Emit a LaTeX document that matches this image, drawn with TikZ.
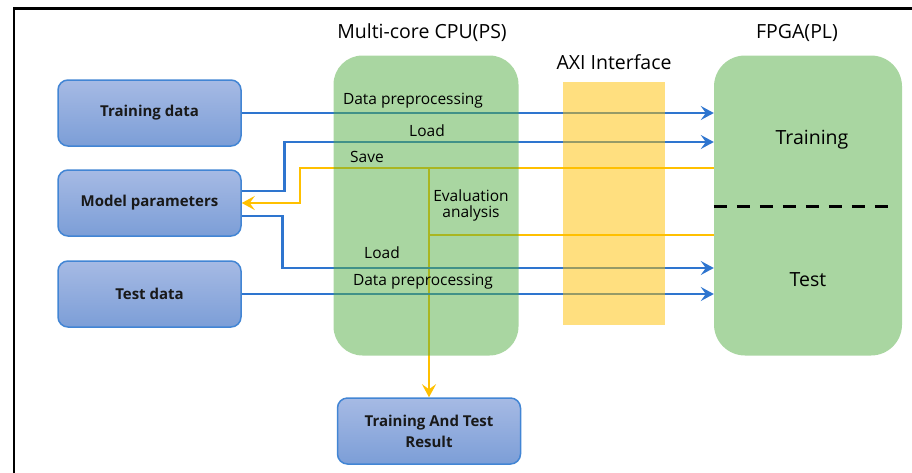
\documentclass[tikz,border=0pt]{standalone}
\usepackage{fontspec}
\setmainfont{Open Sans}
\usepackage{tikz}
\usetikzlibrary{arrows.meta,backgrounds}

\definecolor{lineblue}{RGB}{46,117,207}
\definecolor{lineyellow}{RGB}{255,192,0}
\definecolor{boxtop}{RGB}{166,186,228}
\definecolor{boxbot}{RGB}{124,158,215}
\definecolor{boxedge}{RGB}{66,133,212}
\definecolor{cpugreen}{RGB}{84,173,67}
\definecolor{axiyellow}{RGB}{255,191,0}

\begin{document}
\begin{tikzpicture}[
    x=1pt, y=-1pt,
    databox/.style={rectangle, draw=boxedge, line width=1.5pt, rounded corners=10pt, top color=boxtop, bottom color=boxbot, minimum width=183pt, minimum height=66pt, font=\fontsize{15}{21}\selectfont\bfseries, text=black!90, align=center},
    unit/.style={rectangle, fill=cpugreen, fill opacity=0.5, rounded corners=29pt, minimum width=185pt, minimum height=300pt},
    axibar/.style={rectangle, fill=axiyellow, fill opacity=0.5, minimum width=102pt, minimum height=243pt},
    title/.style={font=\fontsize{19.5}{22}\selectfont, text=black},
    lbl/.style={font=\fontsize{15.5}{16}\selectfont, text=black, align=center},
    blueline/.style={draw=lineblue, line width=2.8pt},
    yellowline/.style={draw=lineyellow, line width=2.8pt},
    tip/.style={-{Stealth[length=13pt,width=14pt,inset=5pt]}}
]
\useasboundingbox (0,0) rectangle (912,472);

% frame
\draw[line width=2.5pt] (14,480) -- (14,8.5) -- (920,8.5);

% Host side data
\node[databox] (tdata) at (149.5,113) {Training data};
\node[databox] (mparam) at (149.5,203) {Model parameters};
\node[databox] (testdata) at (149.5,294) {Test data};
\node[databox] (result) at (429,431) {Training And Test\\Result};

% CPU, AXI, FPGA
\node[unit] (cpu) at (426,205.5) {};
\node[title] (cputitle) at (422,33) {Multi-core CPU(PS)};
\node[axibar] (axi) at (614,203.5) {};
\node[title] (axititle) at (614,62) {AXI Interface};
\node[unit, minimum width=188pt, rounded corners=31pt] (fpga) at (808,205.5) {};
\node[title] (fpgatitle) at (797,33) {FPGA(PL)};
\node[title] (train) at (812,140) {Training};
\node[title] (test) at (808,280) {Test};
\draw[line width=3pt, dash pattern=on 13pt off 10pt] (fpga.west |- 0,206) -- (893,206);

% ports on the FPGA side
\coordinate (pTrainA) at (fpga.west |- 0,113);
\coordinate (pTrainB) at (fpga.west |- 0,142);
\coordinate (pSave) at (fpga.west |- 0,168);
\coordinate (pEval) at (fpga.west |- 0,235);
\coordinate (pTestA) at (fpga.west |- 0,268);
\coordinate (pTestB) at (fpga.west |- 0,294);
\coordinate (evTop) at (result.north |- pSave);
\coordinate (evMid) at (result.north |- pEval);

% connectors
\begin{scope}[on background layer]
\draw[blueline, tip] (tdata.east) -- (pTrainA);
\draw[blueline, tip] ([yshift=12pt]mparam.east) -- ++(43,0) |- (pTrainB);
\draw[yellowline, tip] (pSave) -- (300,168) |- (mparam.east);
\draw[yellowline, tip] (evTop) -- (result.north);
\draw[yellowline] (pEval) -- (evMid);
\draw[blueline, tip] ([yshift=-13pt]mparam.east) -- ++(41,0) |- (pTestA);
\draw[blueline, tip] (testdata.east) -- (pTestB);
\end{scope}

% labels
\node[lbl] (l1) at (413,101) {Data preprocessing};
\node[lbl] (l2) at (427,131) {Load};
\node[lbl] (l3) at (367,157) {Save};
\node[lbl] (l4) at (471,205) {Evaluation\\analysis};
\node[lbl] (l5) at (382,253) {Load};
\node[lbl] (l6) at (423,282) {Data preprocessing};

\end{tikzpicture}
\end{document}
